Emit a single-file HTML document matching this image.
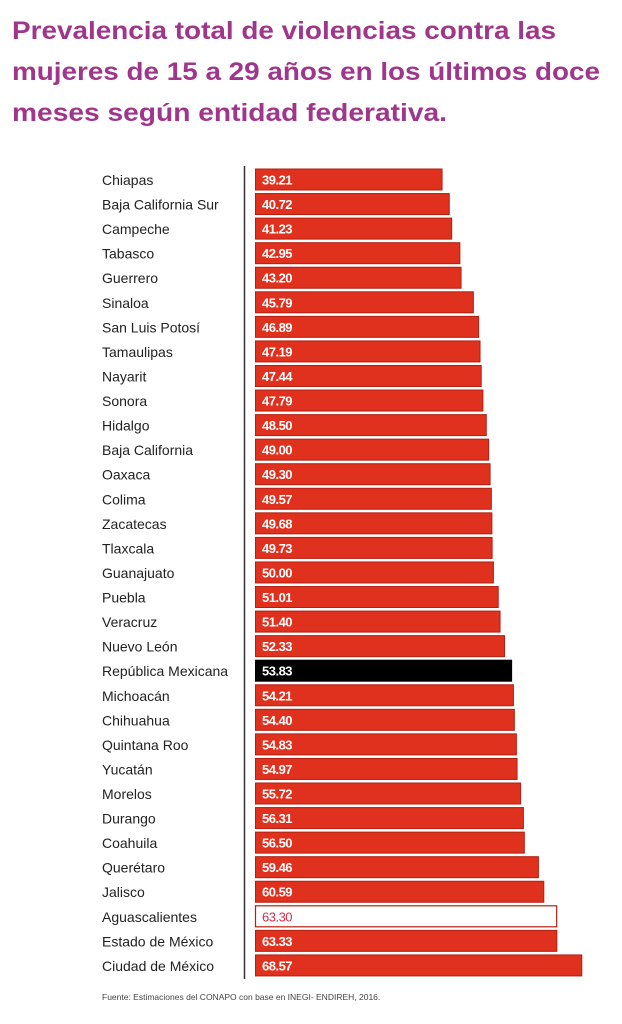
<!DOCTYPE html>
<html><head><meta charset="utf-8"><style>
body{margin:0;background:#fff;}
svg{display:block;}
.l{font-size:14px;fill:#222;}
.v{font-size:13px;font-weight:bold;fill:#fff;letter-spacing:-0.5px;}
.b{fill:#e0301e;stroke:#b22010;stroke-width:1;}
</style></head><body>
<svg width="622" height="1024" xmlns="http://www.w3.org/2000/svg" font-family="Liberation Sans, sans-serif">
<g fill="#a0358c" font-weight="bold" font-size="25">
<text x="12" y="39" textLength="544" lengthAdjust="spacingAndGlyphs">Prevalencia total de violencias contra las</text>
<text x="12" y="80" textLength="588" lengthAdjust="spacingAndGlyphs">mujeres de 15 a 29 años en los últimos doce</text>
<text x="12" y="121" textLength="435" lengthAdjust="spacingAndGlyphs">meses según entidad federativa.</text>
</g>
<line x1="244.5" y1="166" x2="244.5" y2="979" stroke="#333" stroke-width="1.5"/>

<g transform="translate(0,169)"><text class="l" x="102" y="16">Chiapas</text><rect class="b" x="255.5" y="0" width="186.56" height="21"/><text class="v" x="262" y="15.5">39.21</text></g>
<g transform="translate(0,193.56)"><text class="l" x="102" y="16">Baja California Sur</text><rect class="b" x="255.5" y="0" width="193.75" height="21"/><text class="v" x="262" y="15.5">40.72</text></g>
<g transform="translate(0,218.12)"><text class="l" x="102" y="16">Campeche</text><rect class="b" x="255.5" y="0" width="196.17" height="21"/><text class="v" x="262" y="15.5">41.23</text></g>
<g transform="translate(0,242.68)"><text class="l" x="102" y="16">Tabasco</text><rect class="b" x="255.5" y="0" width="204.36" height="21"/><text class="v" x="262" y="15.5">42.95</text></g>
<g transform="translate(0,267.24)"><text class="l" x="102" y="16">Guerrero</text><rect class="b" x="255.5" y="0" width="205.55" height="21"/><text class="v" x="262" y="15.5">43.20</text></g>
<g transform="translate(0,291.8)"><text class="l" x="102" y="16">Sinaloa</text><rect class="b" x="255.5" y="0" width="217.87" height="21"/><text class="v" x="262" y="15.5">45.79</text></g>
<g transform="translate(0,316.36)"><text class="l" x="102" y="16">San Luis Potosí</text><rect class="b" x="255.5" y="0" width="223.10" height="21"/><text class="v" x="262" y="15.5">46.89</text></g>
<g transform="translate(0,340.92)"><text class="l" x="102" y="16">Tamaulipas</text><rect class="b" x="255.5" y="0" width="224.53" height="21"/><text class="v" x="262" y="15.5">47.19</text></g>
<g transform="translate(0,365.48)"><text class="l" x="102" y="16">Nayarit</text><rect class="b" x="255.5" y="0" width="225.72" height="21"/><text class="v" x="262" y="15.5">47.44</text></g>
<g transform="translate(0,390.04)"><text class="l" x="102" y="16">Sonora</text><rect class="b" x="255.5" y="0" width="227.38" height="21"/><text class="v" x="262" y="15.5">47.79</text></g>
<g transform="translate(0,414.6)"><text class="l" x="102" y="16">Hidalgo</text><rect class="b" x="255.5" y="0" width="230.76" height="21"/><text class="v" x="262" y="15.5">48.50</text></g>
<g transform="translate(0,439.16)"><text class="l" x="102" y="16">Baja California</text><rect class="b" x="255.5" y="0" width="233.14" height="21"/><text class="v" x="262" y="15.5">49.00</text></g>
<g transform="translate(0,463.72)"><text class="l" x="102" y="16">Oaxaca</text><rect class="b" x="255.5" y="0" width="234.57" height="21"/><text class="v" x="262" y="15.5">49.30</text></g>
<g transform="translate(0,488.28)"><text class="l" x="102" y="16">Colima</text><rect class="b" x="255.5" y="0" width="235.85" height="21"/><text class="v" x="262" y="15.5">49.57</text></g>
<g transform="translate(0,512.84)"><text class="l" x="102" y="16">Zacatecas</text><rect class="b" x="255.5" y="0" width="236.38" height="21"/><text class="v" x="262" y="15.5">49.68</text></g>
<g transform="translate(0,537.4)"><text class="l" x="102" y="16">Tlaxcala</text><rect class="b" x="255.5" y="0" width="236.62" height="21"/><text class="v" x="262" y="15.5">49.73</text></g>
<g transform="translate(0,561.96)"><text class="l" x="102" y="16">Guanajuato</text><rect class="b" x="255.5" y="0" width="237.90" height="21"/><text class="v" x="262" y="15.5">50.00</text></g>
<g transform="translate(0,586.52)"><text class="l" x="102" y="16">Puebla</text><rect class="b" x="255.5" y="0" width="242.71" height="21"/><text class="v" x="262" y="15.5">51.01</text></g>
<g transform="translate(0,611.08)"><text class="l" x="102" y="16">Veracruz</text><rect class="b" x="255.5" y="0" width="244.56" height="21"/><text class="v" x="262" y="15.5">51.40</text></g>
<g transform="translate(0,635.64)"><text class="l" x="102" y="16">Nuevo León</text><rect class="b" x="255.5" y="0" width="248.99" height="21"/><text class="v" x="262" y="15.5">52.33</text></g>
<g transform="translate(0,660.2)"><text class="l" x="102" y="16">República Mexicana</text><rect x="255.5" y="0" width="256.12" height="21" fill="#000" stroke="#000"/><text class="v" x="262" y="15.5">53.83</text></g>
<g transform="translate(0,684.76)"><text class="l" x="102" y="16">Michoacán</text><rect class="b" x="255.5" y="0" width="257.93" height="21"/><text class="v" x="262" y="15.5">54.21</text></g>
<g transform="translate(0,709.32)"><text class="l" x="102" y="16">Chihuahua</text><rect class="b" x="255.5" y="0" width="258.84" height="21"/><text class="v" x="262" y="15.5">54.40</text></g>
<g transform="translate(0,733.88)"><text class="l" x="102" y="16">Quintana Roo</text><rect class="b" x="255.5" y="0" width="260.88" height="21"/><text class="v" x="262" y="15.5">54.83</text></g>
<g transform="translate(0,758.44)"><text class="l" x="102" y="16">Yucatán</text><rect class="b" x="255.5" y="0" width="261.55" height="21"/><text class="v" x="262" y="15.5">54.97</text></g>
<g transform="translate(0,783)"><text class="l" x="102" y="16">Morelos</text><rect class="b" x="255.5" y="0" width="265.12" height="21"/><text class="v" x="262" y="15.5">55.72</text></g>
<g transform="translate(0,807.56)"><text class="l" x="102" y="16">Durango</text><rect class="b" x="255.5" y="0" width="267.92" height="21"/><text class="v" x="262" y="15.5">56.31</text></g>
<g transform="translate(0,832.12)"><text class="l" x="102" y="16">Coahuila</text><rect class="b" x="255.5" y="0" width="268.83" height="21"/><text class="v" x="262" y="15.5">56.50</text></g>
<g transform="translate(0,856.68)"><text class="l" x="102" y="16">Querétaro</text><rect class="b" x="255.5" y="0" width="282.91" height="21"/><text class="v" x="262" y="15.5">59.46</text></g>
<g transform="translate(0,881.24)"><text class="l" x="102" y="16">Jalisco</text><rect class="b" x="255.5" y="0" width="288.29" height="21"/><text class="v" x="262" y="15.5">60.59</text></g>
<g transform="translate(0,905.8)"><text class="l" x="102" y="16">Aguascalientes</text><rect x="255.5" y="0" width="301.18" height="21" fill="#fff" stroke="#b22010" stroke-width="1.2"/><text class="v" x="262" y="15.5" style="fill:#d0304a;font-weight:normal">63.30</text></g>
<g transform="translate(0,930.36)"><text class="l" x="102" y="16">Estado de México</text><rect class="b" x="255.5" y="0" width="301.32" height="21"/><text class="v" x="262" y="15.5">63.33</text></g>
<g transform="translate(0,954.92)"><text class="l" x="102" y="16">Ciudad de México</text><rect class="b" x="255.5" y="0" width="326.26" height="21"/><text class="v" x="262" y="15.5">68.57</text></g>

<text x="102" y="1000" font-size="8.5" fill="#444">Fuente: Estimaciones del CONAPO con base en INEGI- ENDIREH, 2016.</text>
</svg>
</body></html>
